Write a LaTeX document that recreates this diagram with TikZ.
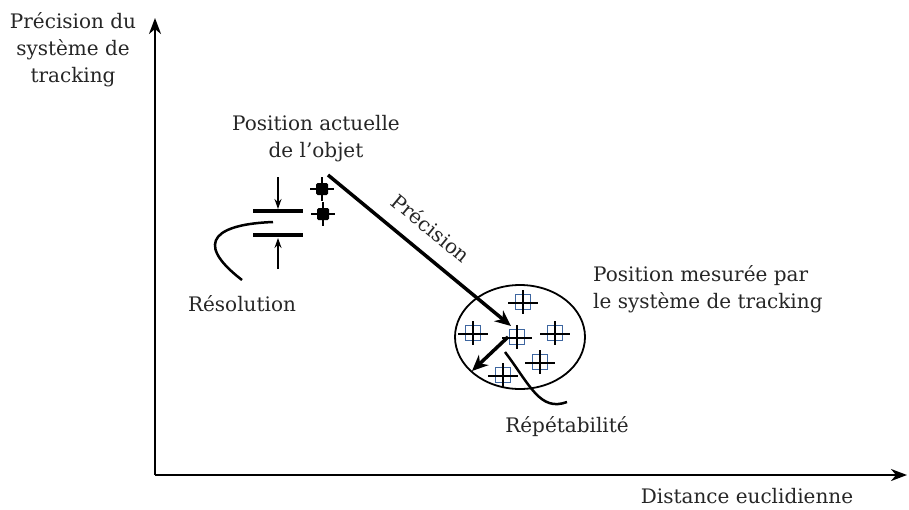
\documentclass[tikz,border=0pt]{standalone}
\usepackage{fontspec}
\setmainfont{DejaVu Serif}
\usetikzlibrary{arrows.meta,shapes.geometric}
\definecolor{markblue}{RGB}{62,102,160}
\def\objmark(#1){\fill[rounded corners=1.5] (#1) +(-6,-6) rectangle +(6,6);
	\draw[line width=2.2] (#1) +(-12,0) -- +(12,0) (#1) +(0,-12) -- +(0,12);}
\def\mesmark(#1){\draw[markblue, line width=1.5] (#1) +(-7.5,-7.5) rectangle +(7.5,7.5);
	\draw[line width=2.2] (#1) +(-15,1) -- +(15,1) (#1) +(0,-12) -- +(0,12);}

\begin{document}
\begin{tikzpicture}[x=1pt, y=-1pt,
	lbl/.style={inner sep=0, font=\fontsize{20}{27}\selectfont, text=black!85},
	axis/.style={line width=2.2, -{Stealth[length=16, width=12, inset=5]}},
	thick arrow/.style={line width=3.5, -{Stealth[length=16, width=14, inset=5]}},
	thin arrow/.style={line width=1.5, -{Stealth[length=10, width=7]}},
	bar/.style={line width=4.5}]
	%%%%% START %%%%%
	\useasboundingbox (0,0) rectangle (909,509);

	% axes
	\coordinate (origin) at (155,475);
	\coordinate (ytip) at (155,18);
	\coordinate (xtip) at (907,475);
	\draw[axis] (origin) -- (ytip);
	\draw[axis] (origin) -- (xtip);
	\node[lbl, align=center, anchor=north] (ylabel) at (73,12) {Précision du\\système de\\tracking};
	\node[lbl, anchor=base] (xlabel) at (747,503) {Distance euclidienne};

	% actual position of the object
	\node[lbl, align=center, anchor=north] (actual) at (316,115) {Position actuelle\\de l’objet};
	\coordinate (obj1) at (322,189);
	\coordinate (obj2) at (323,214);
	\objmark(obj1)
	\objmark(obj2)

	% resolution
	\coordinate (barA) at (253,211);
	\coordinate (barB) at (253,235);
	\draw[bar] (barA) -- ++(50,0);
	\draw[bar] (barB) -- ++(50,0);
	\coordinate (resA) at (278,177);
	\coordinate (resB) at (278,269);
	\draw[thin arrow] (resA) -- (278,209);
	\draw[thin arrow] (resB) -- (278,238);
	\node[lbl, anchor=base] (reso) at (242,311) {Résolution};
	\coordinate (resC) at (273,222);
	\draw[line width=2.5] (resC) .. controls (220,224) and (190,240) .. (242,280);

	% measured positions
	\node[draw, line width=1.8, ellipse, minimum width=130, minimum height=104, inner sep=0] (cloud) at (520,337) {};
	\coordinate (m1) at (523,302);
	\coordinate (m2) at (473,333);
	\coordinate (m3) at (517,337);
	\coordinate (m4) at (555,333);
	\coordinate (m5) at (540,362);
	\coordinate (m6) at (503,375);
	\foreach \m in {m1,m2,m3,m4,m5,m6}{\mesmark(\m)}
	\node[lbl, align=left, anchor=north west] (measured) at (593,265) {Position mesurée par\\le système de tracking};

	% accuracy
	\coordinate (precA) at (328,175);
	\coordinate (precB) at (511,326);
	\draw[thick arrow] (precA) -- (precB);
	\node[lbl, rotate=-39.5] (prec) at (431,228) {Précision};

	% repeatability
	\coordinate (repA) at (508,337);
	\coordinate (repB) at (472,371);
	\draw[thick arrow] (repA) -- (repB);
	\coordinate (repC) at (505,352);
	\draw[line width=2.5] (repC) .. controls (530,385) and (540,412) .. (567,402);
	\node[lbl, anchor=base] (repet) at (567,432) {Répétabilité};
	%%%%% END %%%%%
\end{tikzpicture}
\end{document}
